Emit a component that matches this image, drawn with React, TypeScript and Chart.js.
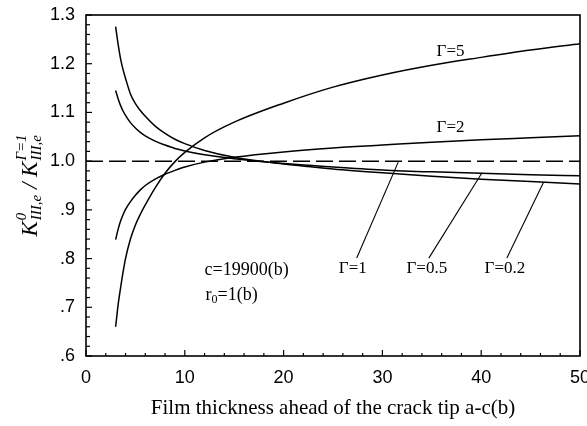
import React, { useEffect, useRef } from 'react';
import { Chart, registerables } from 'chart.js';

Chart.register(...registerables);

// ---- data ----
const thickness = [3, 3.25, 3.5, 3.75, 4, 4.5, 5, 5.5, 6, 7, 8, 9, 10, 12, 15, 20, 25, 30, 35, 40, 45, 50];
const gamma5 = [0.660, 0.705, 0.740, 0.772, 0.800, 0.840, 0.869, 0.891, 0.910, 0.945, 0.975, 0.999, 1.018, 1.048, 1.080, 1.119, 1.152, 1.177, 1.197, 1.213, 1.228, 1.241];
const gamma2 = [0.839, 0.860, 0.877, 0.890, 0.901, 0.917, 0.930, 0.941, 0.950, 0.963, 0.973, 0.981, 0.988, 0.998, 1.008, 1.019, 1.027, 1.033, 1.039, 1.044, 1.048, 1.052];
const gamma05 = [1.145, 1.128, 1.114, 1.103, 1.094, 1.079, 1.068, 1.059, 1.052, 1.041, 1.033, 1.026, 1.021, 1.013, 1.005, 0.995, 0.988, 0.982, 0.978, 0.975, 0.972, 0.970];
const gamma02 = [1.276, 1.240, 1.210, 1.188, 1.170, 1.138, 1.118, 1.104, 1.092, 1.072, 1.057, 1.045, 1.036, 1.022, 1.008, 0.994, 0.984, 0.976, 0.969, 0.963, 0.958, 0.953];
const gamma1X = [0, 50];
const gamma1 = [1.0, 1.0];

const xMin = 0, xMax = 50, xMajor = 10, xMinor = 2;
const yMin = 0.6, yMax = 1.3, yMajor = 0.1, yMinor = 0.02;

const curveLabels = ['Γ=5', 'Γ=2', 'Γ=1', 'Γ=0.5', 'Γ=0.2'];
const curveLabelX = [36.9, 36.9, 27.0, 34.5, 42.4];
const curveLabelY = [1.226, 1.070, 0.780, 0.780, 0.780];
// leader lines (for Γ=1, Γ=0.5, Γ=0.2), data units
const leaderFromX = [31.6, 40.05, 46.3];
const leaderFromY = [0.998, 0.975, 0.956];
const leaderToX = [27.4, 34.7, 42.6];
const leaderToY = [0.801, 0.801, 0.801];

const noteX = 12.0;
const noteCY = 0.776;
const noteRY = 0.725;

const xTitle = 'Film thickness ahead of the crack tip a-c(b)';

const SERIF = "'Liberation Serif', 'Times New Roman', serif";
const SANS = "'Liberation Sans', Arial, Helvetica, sans-serif";

const pts = (xs: number[], ys: number[]) => xs.map((x, i) => ({ x, y: ys[i] }));

const decorPlugin = {
  id: 'decor',
  afterDraw(chart: any) {
    const { ctx, chartArea: a } = chart;
    const xs = chart.scales.x;
    const ys = chart.scales.y;
    ctx.save();
    ctx.strokeStyle = '#000';
    ctx.fillStyle = '#000';
    // frame
    ctx.lineWidth = 1.6;
    ctx.strokeRect(a.left, a.top, a.right - a.left, a.bottom - a.top);
    // y ticks (inward)
    ctx.lineWidth = 1.2;
    const nY = Math.round((yMax - yMin) / yMinor);
    const perY = Math.round(yMajor / yMinor);
    for (let k = 0; k <= nY; k++) {
      const v = yMin + k * yMinor;
      const py = ys.getPixelForValue(v);
      const len = k % perY === 0 ? 6 : 4;
      ctx.beginPath();
      ctx.moveTo(a.left, py);
      ctx.lineTo(a.left + len, py);
      ctx.stroke();
    }
    const nX = Math.round((xMax - xMin) / xMinor);
    const perX = Math.round(xMajor / xMinor);
    for (let k = 0; k <= nX; k++) {
      const v = xMin + k * xMinor;
      const px = xs.getPixelForValue(v);
      const len = k % perX === 0 ? 6 : 3;
      ctx.beginPath();
      ctx.moveTo(px, a.bottom);
      ctx.lineTo(px, a.bottom - len);
      ctx.stroke();
    }
    // leader lines
    ctx.lineWidth = 1.1;
    for (let i = 0; i < leaderFromX.length; i++) {
      ctx.beginPath();
      ctx.moveTo(xs.getPixelForValue(leaderFromX[i]), ys.getPixelForValue(leaderFromY[i]));
      ctx.lineTo(xs.getPixelForValue(leaderToX[i]), ys.getPixelForValue(leaderToY[i]));
      ctx.stroke();
    }
    // curve labels
    ctx.font = `17px ${SERIF}`;
    ctx.textAlign = 'center';
    ctx.textBaseline = 'middle';
    for (let i = 0; i < curveLabels.length; i++) {
      ctx.fillText(curveLabels[i], xs.getPixelForValue(curveLabelX[i]), ys.getPixelForValue(curveLabelY[i]));
    }
    // notes
    ctx.textAlign = 'left';
    ctx.font = `18px ${SERIF}`;
    const nx = xs.getPixelForValue(noteX);
    ctx.fillText('c=19900(b)', nx, ys.getPixelForValue(noteCY));
    const ry = ys.getPixelForValue(noteRY);
    ctx.fillText('r', nx + 1, ry);
    const rw = ctx.measureText('r').width;
    ctx.font = `12px ${SERIF}`;
    ctx.fillText('0', nx + 1 + rw, ry + 5);
    const zw = ctx.measureText('0').width;
    ctx.font = `18px ${SERIF}`;
    ctx.fillText('=1(b)', nx + 1 + rw + zw, ry);

    // y axis title with sub/superscripts (rotated)
    const cx = a.left - 55;
    const cy = (a.top + a.bottom) / 2;
    const big = `italic 23px ${SERIF}`;
    const small = `italic 15px ${SERIF}`;
    ctx.font = big;
    const wK = ctx.measureText('K').width;
    const wSep = ctx.measureText(' / ').width;
    ctx.font = small;
    const wSub = ctx.measureText('III,e').width;
    const wSup0 = ctx.measureText('0').width;
    const wSupG = ctx.measureText('Γ=1').width;
    const total = wK + Math.max(wSub, wSup0) + wSep + wK + Math.max(wSub, wSupG) + 2;
    ctx.translate(cx, cy);
    ctx.rotate(-Math.PI / 2);
    ctx.textAlign = 'left';
    ctx.textBaseline = 'alphabetic';
    let px = -total / 2;
    const base = 6;
    ctx.font = big;
    ctx.fillText('K', px, base);
    px += wK + 1;
    ctx.font = small;
    ctx.fillText('0', px, base - 11);
    ctx.fillText('III,e', px, base + 4);
    px += Math.max(wSub, wSup0);
    ctx.font = big;
    ctx.fillText(' / ', px, base);
    px += wSep;
    ctx.fillText('K', px, base);
    px += wK + 1;
    ctx.font = small;
    ctx.fillText('Γ=1', px, base - 11);
    ctx.fillText('III,e', px, base + 4);
    ctx.restore();
  },
};

export default function App() {
  const ref = useRef<HTMLCanvasElement | null>(null);
  useEffect(() => {
    if (!ref.current) return;
    const line = (data: any[], dash: number[] = []) => ({
      data,
      borderColor: '#000',
      borderWidth: 1.5,
      borderDash: dash,
      pointRadius: 0,
      fill: false,
      cubicInterpolationMode: 'monotone' as const,
    });
    const chart = new Chart(ref.current, {
      type: 'line',
      data: {
        datasets: [
          { label: 'Γ=5', ...line(pts(thickness, gamma5)) },
          { label: 'Γ=2', ...line(pts(thickness, gamma2)) },
          { label: 'Γ=0.5', ...line(pts(thickness, gamma05)) },
          { label: 'Γ=0.2', ...line(pts(thickness, gamma02)) },
          { label: 'Γ=1', ...line(pts(gamma1X, gamma1), [17, 6]) },
        ],
      },
      options: {
        animation: false,
        responsive: true,
        maintainAspectRatio: false,
        layout: { padding: { left: 0, top: 15, right: 7, bottom: 0 } },
        plugins: { legend: { display: false }, tooltip: { enabled: false } },
        scales: {
          x: {
            type: 'linear',
            min: xMin,
            max: xMax,
            grid: { display: false, drawTicks: false },
            border: { display: false },
            ticks: { stepSize: xMajor, padding: 11, color: '#000', font: { family: SANS, size: 18 } },
            title: { display: true, text: xTitle, color: '#000', font: { family: SERIF, size: 21 }, padding: { top: 0, bottom: 5 } },
            afterFit: (s: any) => { s.height = 70; s.paddingLeft = 0; s.paddingRight = 0; },
          },
          y: {
            type: 'linear',
            min: yMin,
            max: yMax,
            grid: { display: false, drawTicks: false },
            border: { display: false },
            ticks: {
              stepSize: yMajor,
              padding: 11,
              color: '#000',
              font: { family: SANS, size: 18 },
              callback: (v: any) => {
                const s = Number(v).toFixed(1);
                return Number(v) < 1 ? s.replace(/^0/, '') : s;
              },
            },
            afterFit: (s: any) => { s.width = 86; s.paddingTop = 0; s.paddingBottom = 0; },
          },
        },
      },
      plugins: [decorPlugin],
    });
    return () => chart.destroy();
  }, []);
  return (
    <div style={{ position: 'absolute', left: 0, top: 0, width: 587, height: 426, background: '#fff' }}>
      <canvas ref={ref} />
    </div>
  );
}
